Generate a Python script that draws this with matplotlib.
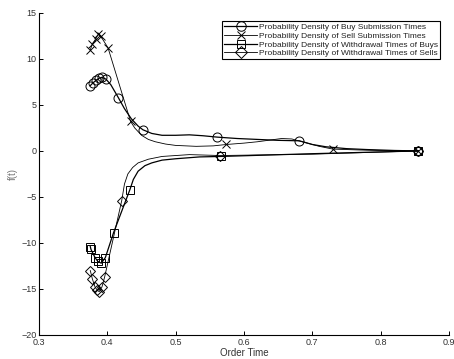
import matplotlib
matplotlib.use('Agg')
import matplotlib.pyplot as plt

plt.rcParams['font.family'] = ['Liberation Sans', 'DejaVu Sans']

# traced curve vertices (x = order time, y = f(t)); mk_* = indices that carry a marker
buy_x = [0.375, 0.379, 0.384, 0.388, 0.392, 0.398, 0.405, 0.416, 0.425, 0.435, 0.445, 0.452,
         0.465, 0.48, 0.50, 0.52, 0.54, 0.561, 0.59, 0.62, 0.65, 0.681, 0.70, 0.72, 0.75, 0.78, 0.82, 0.855]
buy_y = [7.1, 7.4, 7.7, 7.9, 8.0, 7.8, 7.2, 5.8, 4.6, 3.5, 2.7, 2.3,
         1.9, 1.7, 1.7, 1.75, 1.65, 1.5, 1.35, 1.25, 1.15, 1.1, 0.7, 0.45, 0.25, 0.15, 0.05, 0.0]
mk_buy = [0, 1, 2, 3, 4, 5, 7, 11, 17, 21, 27]

sell_x = [0.375, 0.378, 0.383, 0.387, 0.390, 0.401, 0.434, 0.44, 0.45, 0.46, 0.47, 0.485,
          0.50, 0.53, 0.555, 0.574, 0.60, 0.62, 0.64, 0.655, 0.67, 0.69, 0.71, 0.73, 0.77, 0.80, 0.855]
sell_y = [11.0, 11.6, 12.2, 12.7, 12.5, 11.2, 3.2, 2.5, 1.7, 1.25, 1.0, 0.75,
          0.6, 0.5, 0.55, 0.7, 0.85, 1.0, 1.2, 1.35, 1.3, 0.9, 0.5, 0.2, 0.1, 0.05, 0.0]
mk_sell = [0, 1, 2, 3, 4, 5, 6, 15, 23, 26]

wbuy_x = [0.375, 0.376, 0.382, 0.386, 0.391, 0.397, 0.409, 0.433, 0.438, 0.445, 0.455,
          0.465, 0.48, 0.50, 0.535, 0.566, 0.70, 0.855]
wbuy_y = [-10.4, -10.7, -11.6, -12.0, -12.2, -11.6, -8.9, -4.2, -3.1, -2.2, -1.6,
          -1.3, -1.0, -0.85, -0.65, -0.6, -0.3, 0.0]
mk_wbuy = [0, 1, 2, 3, 4, 5, 6, 7, 15, 17]

wsell_x = [0.375, 0.378, 0.382, 0.385, 0.388, 0.392, 0.396, 0.421, 0.425, 0.43, 0.437,
           0.445, 0.46, 0.48, 0.52, 0.565, 0.70, 0.855]
wsell_y = [-13.0, -13.9, -14.8, -15.1, -15.3, -14.8, -13.7, -5.4, -3.6, -2.5, -1.8,
           -1.3, -0.9, -0.6, -0.4, -0.5, -0.35, 0.0]
mk_wsell = [0, 1, 2, 3, 4, 5, 6, 7, 15, 17]

labels = ['Probability Density of Buy Submission Times',
          'Probability Density of Sell Submission Times',
          'Probability Density of Withdrawal Times of Buys',
          'Probability Density of Withdrawal Times of Sells']


def main():
    fig = plt.figure(figsize=(4.54, 3.59), dpi=100)
    ax = fig.add_axes([0.086, 0.067, 0.903, 0.897])

    ax.plot(buy_x, buy_y, color='k', lw=0.9, marker='o', ms=6.5, mfc='none',
            mew=0.7, markevery=mk_buy, label=labels[0])
    ax.plot(sell_x, sell_y, color='k', lw=0.6, marker='x', ms=6, mew=0.7,
            markevery=mk_sell, label=labels[1])
    ax.plot(wbuy_x, wbuy_y, color='k', lw=0.9, marker='s', ms=5.5, mfc='none',
            mew=0.7, markevery=mk_wbuy, label=labels[2])
    ax.plot(wsell_x, wsell_y, color='k', lw=0.6, marker='D', ms=5.5, mfc='none',
            mew=0.7, markevery=mk_wsell, label=labels[3])

    ax.set_xlim(0.3, 0.9)
    ax.set_ylim(-20, 15)
    ax.set_xticks([0.3, 0.4, 0.5, 0.6, 0.7, 0.8, 0.9])
    ax.set_xticklabels(['0.3', '0.4', '0.5', '0.6', '0.7', '0.8', '0.9'])
    ax.set_yticks([-20, -15, -10, -5, 0, 5, 10, 15])
    ax.tick_params(direction='in', length=3, width=0.7, labelsize=6.5,
                   labelcolor='#333333', pad=2)
    ax.spines['top'].set_visible(False)
    ax.spines['right'].set_visible(False)
    for s in ('left', 'bottom'):
        ax.spines[s].set_linewidth(0.8)

    ax.set_xlabel('Order Time', fontsize=7, color='#333333', labelpad=1)
    ax.set_ylabel('f(t)', fontsize=7, color='#777777', labelpad=2)

    leg = ax.legend(loc='upper right', bbox_to_anchor=(0.978, 0.975),
                    fontsize=6.0, fancybox=False, edgecolor='k',
                    handlelength=4.0, handletextpad=0.2, labelspacing=0.12,
                    borderpad=0.25, borderaxespad=0, markerscale=1.05,
                    framealpha=1)
    leg.get_frame().set_linewidth(0.8)
    for t in leg.get_texts():
        t.set_color('#222222')

    fig.savefig('out.png', dpi=100)


if __name__ == "__main__":
    main()
